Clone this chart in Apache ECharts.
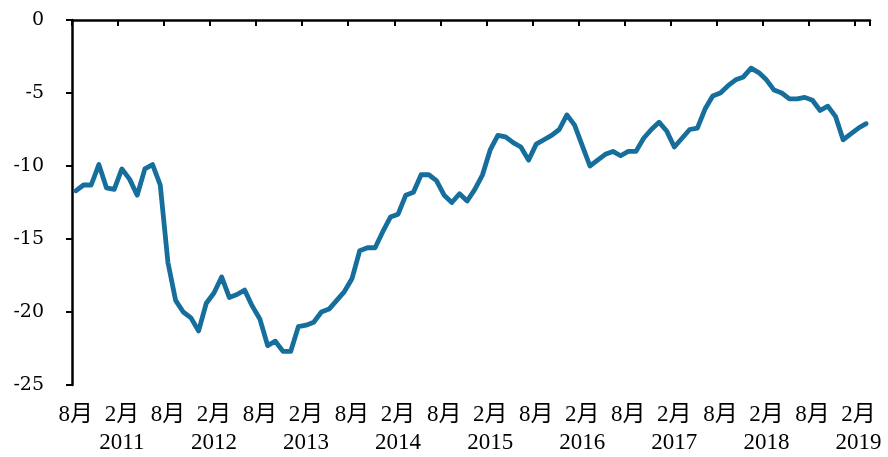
<!doctype html>
<html>
<head>
  <meta charset="UTF-8" />
  <title>Chart</title>
  <script src="https://cdn.jsdelivr.net/npm/echarts@6/dist/echarts.min.js"></script>
  <style>
    html, body { margin: 0; padding: 0; background: #fff; }
    #chart { width: 888px; height: 457px; }
  </style>
</head>
<body>
  <div id="chart"></div>
  <script>
    // months from 2010-08 to 2019-03
    const startYear = 2010, startMonth = 8, monthCount = 104;
    const months = [];
    for (let i = 0; i < monthCount; i++) {
      const m = (startMonth - 1 + i) % 12 + 1;
      const y = startYear + Math.floor((startMonth - 1 + i) / 12);
      months.push(y + '-' + (m < 10 ? '0' + m : m));
    }

    const values = [
      -11.7, -11.3, -11.3, -9.9, -11.5, -11.6, -10.2, -10.9, -12.0, -10.2, -9.9, -11.3,
      -16.6, -19.2, -20.0, -20.4, -21.3, -19.4, -18.7, -17.6, -19.0, -18.8, -18.5, -19.6,
      -20.5, -22.3, -22.0, -22.7, -22.7, -21.0, -20.9, -20.7, -20.0, -19.8, -19.2, -18.6,
      -17.7, -15.8, -15.6, -15.6, -14.5, -13.5, -13.3, -12.0, -11.8, -10.6, -10.6, -11.0,
      -12.0, -12.5, -11.9, -12.4, -11.6, -10.6, -8.9, -7.9, -8.0, -8.4, -8.7, -9.6,
      -8.5, -8.2, -7.9, -7.5, -6.5, -7.2, -8.6, -10.0, -9.6, -9.2, -9.0, -9.3,
      -9.0, -9.0, -8.1, -7.5, -7.0, -7.6, -8.7, -8.1, -7.5, -7.4, -6.1, -5.2,
      -5.0, -4.5, -4.1, -3.9, -3.3, -3.6, -4.1, -4.8, -5.0, -5.4, -5.4, -5.3,
      -5.5, -6.2, -5.9, -6.6, -8.2, -7.8, -7.4, -7.1
    ];

    const yTicks = { min: -25, max: 0, step: 5 };

    const chart = echarts.init(document.getElementById('chart'), null, { renderer: 'canvas' });
    const labelFont = "'Liberation Serif', 'Noto Sans CJK SC', serif";

    chart.setOption({
      animation: false,
      backgroundColor: '#fff',
      grid: { left: 72, right: 18, top: 20, bottom: 65, containLabel: false },
      xAxis: [
        {
          type: 'category',
          position: 'top',
          data: months,
          boundaryGap: true,
          axisLine: { show: true, onZero: false, lineStyle: { color: '#000', width: 2.5 } },
          axisTick: { show: true, inside: true, interval: 5, length: 6, lineStyle: { color: '#000', width: 2 } },
          axisLabel: { show: false },
          splitLine: { show: false }
        },
        {
          type: 'category',
          position: 'bottom',
          data: months,
          boundaryGap: true,
          axisLine: { show: false, onZero: false },
          axisTick: { show: false },
          splitLine: { show: false },
          axisLabel: {
            interval: 5,
            margin: 16,
            color: '#000',
            fontFamily: labelFont,
            fontSize: 23,
            lineHeight: 28,
            formatter: function (v) {
              const parts = v.split('-');
              const m = parseInt(parts[1], 10);
              return m === 2 ? m + '月\n' + parts[0] : m + '月';
            }
          }
        }
      ],
      yAxis: {
        type: 'value',
        min: yTicks.min,
        max: yTicks.max,
        interval: yTicks.step,
        axisLine: { show: true, lineStyle: { color: '#000', width: 2.5 } },
        axisTick: { show: true, inside: false, length: 6, lineStyle: { color: '#000', width: 2 } },
        axisLabel: {
          margin: 28,
          color: '#000',
          fontFamily: "'DejaVu Serif', serif",
          fontSize: 19
        },
        splitLine: { show: false }
      },
      series: [{
        type: 'line',
        xAxisIndex: 0,
        data: values,
        showSymbol: false,
        symbol: 'none',
        lineStyle: { color: '#156e9b', width: 4.8, join: 'round', cap: 'round' },
        itemStyle: { color: '#156e9b' }
      }]
    });
  </script>
</body>
</html>
